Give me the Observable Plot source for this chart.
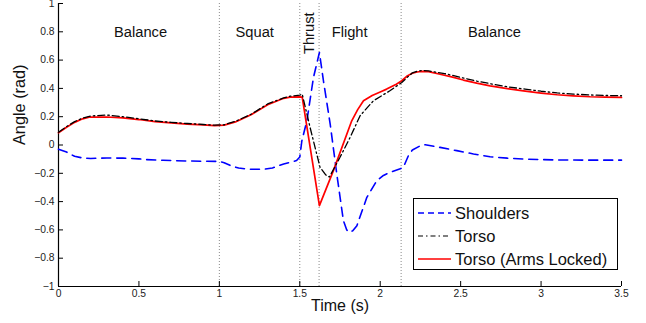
<!DOCTYPE html>
<html>
<head>
<meta charset="utf-8">
<script src="https://cdn.jsdelivr.net/npm/d3@7"></script>
<script src="https://cdn.jsdelivr.net/npm/@observablehq/plot@0.6"></script>
<style>
  html, body { margin: 0; padding: 0; background: #fff; }
  #wrap { position: relative; width: 646px; height: 323px; font-family: "Liberation Sans", Arial, Helvetica, sans-serif; }
  #legend { position: absolute; left: 413px; top: 198px; width: 203px; height: 70px; border: 1px solid #000; background: #fff; }
  .row { position: absolute; left: 0; height: 22px; display: flex; align-items: center; font-size: 16.5px; color: #111; white-space: nowrap; }
  .row svg { margin-left: 4px; margin-right: 4px; }
</style>
</head>
<body>
<div id="wrap"></div>
<script>
// ---- data ----
const seriesNames = ["Shoulders", "Torso", "Torso (Arms Locked)"];

const shouldersT = [0, 0.05, 0.1, 0.155, 0.2, 0.3, 0.4, 0.5, 0.54, 0.65, 0.8, 0.9, 1.0, 1.03, 1.07, 1.12, 1.18, 1.28, 1.33, 1.4, 1.48, 1.5, 1.513, 1.544, 1.585, 1.622, 1.647, 1.689, 1.73, 1.771, 1.792, 1.808, 1.828, 1.855, 1.917, 1.979, 2.02, 2.062, 2.12, 2.144, 2.175, 2.2, 2.25, 2.28, 2.372, 2.476, 2.58, 2.683, 2.79, 2.89, 3.0, 3.1, 3.3, 3.5];
const shouldersV = [-0.03, -0.05, -0.08, -0.093, -0.095, -0.092, -0.093, -0.098, -0.103, -0.108, -0.113, -0.115, -0.116, -0.125, -0.146, -0.163, -0.171, -0.171, -0.162, -0.134, -0.11, -0.085, 0.03, 0.17, 0.477, 0.654, 0.454, 0.148, -0.205, -0.534, -0.6, -0.617, -0.607, -0.57, -0.37, -0.252, -0.215, -0.193, -0.17, -0.158, -0.076, -0.035, -0.005, 0.002, -0.017, -0.04, -0.063, -0.083, -0.093, -0.099, -0.103, -0.106, -0.107, -0.107];

const torsoT = [0, 0.05, 0.1, 0.15, 0.2, 0.3, 0.4, 0.5, 0.6, 0.7, 0.8, 0.9, 0.97, 1.03, 1.1, 1.2, 1.3, 1.4, 1.44, 1.5, 1.515, 1.564, 1.626, 1.66, 1.684, 1.75, 1.813, 1.875, 1.958, 2.06, 2.134, 2.17, 2.2, 2.23, 2.26, 2.3, 2.4, 2.5, 2.6, 2.7, 2.8, 2.9, 3.0, 3.1, 3.2, 3.3, 3.4, 3.5];
const torsoV = [0.09, 0.13, 0.165, 0.19, 0.205, 0.212, 0.2, 0.185, 0.17, 0.16, 0.152, 0.145, 0.14, 0.143, 0.167, 0.219, 0.29, 0.333, 0.345, 0.352, 0.36, 0.124, -0.158, -0.21, -0.226, -0.087, 0.054, 0.207, 0.313, 0.383, 0.442, 0.48, 0.51, 0.522, 0.527, 0.524, 0.505, 0.478, 0.452, 0.43, 0.41, 0.395, 0.38, 0.368, 0.36, 0.354, 0.35, 0.348];

const lockedT = [0, 0.05, 0.1, 0.15, 0.19, 0.3, 0.4, 0.5, 0.6, 0.7, 0.8, 0.9, 0.97, 1.03, 1.1, 1.2, 1.3, 1.4, 1.44, 1.5, 1.515, 1.622, 1.709, 1.823, 1.86, 1.896, 1.95, 2.0, 2.04, 2.1, 2.134, 2.17, 2.2, 2.23, 2.258, 2.3, 2.372, 2.45, 2.517, 2.6, 2.683, 2.8, 2.89, 3.0, 3.1, 3.2, 3.305, 3.4, 3.5];
const lockedV = [0.087, 0.125, 0.16, 0.185, 0.197, 0.198, 0.192, 0.18, 0.165, 0.156, 0.148, 0.142, 0.137, 0.14, 0.163, 0.215, 0.285, 0.33, 0.338, 0.34, 0.338, -0.428, -0.181, 0.171, 0.25, 0.313, 0.35, 0.375, 0.395, 0.43, 0.454, 0.49, 0.507, 0.516, 0.52, 0.518, 0.5, 0.48, 0.459, 0.437, 0.418, 0.397, 0.383, 0.367, 0.355, 0.347, 0.341, 0.338, 0.336];

const phaseBoundaries = [1, 1.5, 1.62, 2.13];
const phaseNames = ["Balance", "Squat", "Thrust", "Flight", "Balance"];
const phaseLabelT = [0.51, 1.22, 1.56, 1.81, 2.71];
const phaseLabelV = [0.8, 0.8, 0.79, 0.8, 0.8];

const xTicks = [0, 0.5, 1, 1.5, 2, 2.5, 3, 3.5];
const yTicks = [-1, -0.8, -0.6, -0.4, -0.2, 0, 0.2, 0.4, 0.6, 0.8, 1];

// ---- build tables ----
const shoulders = shouldersT.map((t, i) => ({t, v: shouldersV[i]}));
const torso = torsoT.map((t, i) => ({t, v: torsoV[i]}));
const locked = lockedT.map((t, i) => ({t, v: lockedV[i]}));
const phases = phaseNames.map((name, i) => ({name, t: phaseLabelT[i], v: phaseLabelV[i]}));

const fmt = d => d < 0 ? "\u2212" + Math.abs(d) : String(d);
const font = "Liberation Sans, Arial, Helvetica, sans-serif";

const W = 646, H = 323, mL = 58, mR = 25, mT = 3, mB = 37;

const chart = Plot.plot({
  width: W, height: H,
  marginLeft: mL, marginRight: mR, marginTop: mT, marginBottom: mB,
  style: {fontFamily: font, background: "#fff", color: "#222"},
  x: {domain: [0, 3.5]},
  y: {domain: [-1, 1]},
  marks: [
    Plot.ruleX(phaseBoundaries, {stroke: "#8a8a8a", strokeWidth: 1, strokeDasharray: "1,2"}),
    Plot.axisX(xTicks, {tickSize: 0, tickPadding: 3, tickFormat: fmt, fontSize: 10.3, label: null}),
    Plot.axisY(yTicks, {tickSize: 0, tickPadding: 4, tickFormat: fmt, fontSize: 10.3, label: null}),
    Plot.tickX(xTicks, {x: d => d, insetTop: H - mT - mB - 5, stroke: "#000"}),
    Plot.tickY(yTicks, {y: d => d, insetRight: W - mL - mR - 5, stroke: "#000"}),
    Plot.ruleY([-1], {stroke: "#000", strokeWidth: 1.2}),
    Plot.ruleX([0], {stroke: "#000", strokeWidth: 1.2}),
    Plot.lineY(shoulders, {x: "t", y: "v", stroke: "#0000ff", strokeWidth: 1.6, strokeDasharray: "9,6", curve: "linear"}),
    Plot.lineY(locked, {x: "t", y: "v", stroke: "#ff0000", strokeWidth: 1.7, curve: "linear"}),
    Plot.lineY(torso, {x: "t", y: "v", stroke: "#000", strokeWidth: 1.3, strokeDasharray: "7,3,1.5,3", curve: "linear"}),
    Plot.text(phases, {x: "t", y: "v", text: "name", fontSize: 14.7, fill: "#111", rotate: d => d.name === "Thrust" ? -90 : 0}),
    Plot.text(["Angle (rad)"], {frameAnchor: "left", dx: -39, rotate: -90, fontSize: 16.3, fill: "#111"}),
    Plot.text(["Time (s)"], {frameAnchor: "bottom", dy: 24, fontSize: 16, fill: "#111"})
  ]
});

const wrap = document.getElementById("wrap");
wrap.appendChild(chart);

// legend
const legend = document.createElement("div");
legend.id = "legend";
const styles = [
  {stroke: "#0000ff", dash: "6,4", w: 1.6},
  {stroke: "#000", dash: "5,3,1.5,3", w: 1.2},
  {stroke: "#ff0000", dash: null, w: 1.7}
];
const rowTops = [3, 26, 49];
seriesNames.forEach((name, i) => {
  const row = document.createElement("div");
  row.className = "row";
  row.style.top = rowTops[i] + "px";
  const s = styles[i];
  row.innerHTML = `<svg width="33" height="10"><line x1="0" y1="5" x2="33" y2="5" stroke="${s.stroke}" stroke-width="${s.w}" ${s.dash ? `stroke-dasharray="${s.dash}"` : ""}/></svg><span>${name}</span>`;
  legend.appendChild(row);
});
wrap.appendChild(legend);
</script>
</body>
</html>
